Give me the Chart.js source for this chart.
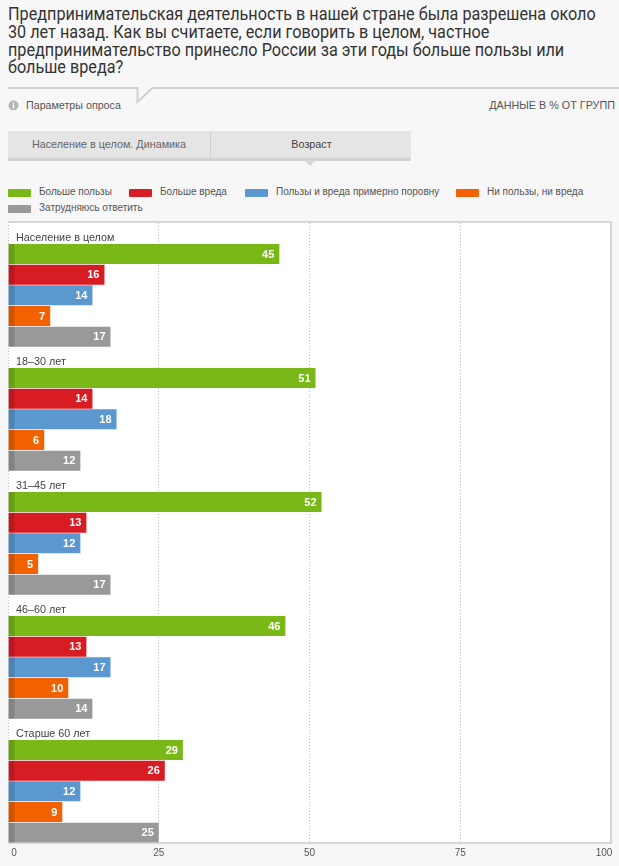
<!DOCTYPE html>
<html lang="ru">
<head>
<meta charset="utf-8">
<title>Предпринимательская деятельность</title>
<script src="https://cdn.jsdelivr.net/npm/chart.js@4"></script>
<style>
  html, body { margin: 0; padding: 0; background: #f7f7f7; }
  body { width: 619px; height: 866px; position: relative; overflow: hidden; font-family: "Liberation Sans", Arial, sans-serif; color: #444; }
  .abs { position: absolute; white-space: nowrap; }
  #title { left: 8px; top: 6px; font-family: Roboto, sans-serif; font-size: 18.5px; line-height: 17.8px; color: #333; transform: scaleX(0.876); transform-origin: left top; }
  #tabs { left: 8px; top: 131px; width: 403px; height: 27px; background: #e5e5e5; border-bottom: 3px solid #d2d2d2; font-size: 10.8px; }
  #tabs div { position: absolute; top: 0; height: 27px; line-height: 27px; text-align: center; }
  .sw { position: absolute; width: 23px; height: 8px; border-radius: 1px; }
  .lg { position: absolute; font-size: 10px; line-height: 12px; color: #555; white-space: nowrap; }
  #chart { position: absolute; left: 0; top: 221px; }
</style>
</head>
<body>
<div id="title" class="abs">Предпринимательская деятельность в нашей стране была разрешена около<br>30 лет назад. Как вы считаете, если говорить в целом, частное<br>предпринимательство принесло России за эти годы больше пользы или<br>больше вреда?</div>

<svg class="abs" style="left:0;top:80px" width="619" height="30">
  <polyline points="8,8 137.5,8 137.5,22 152.5,8 619,8" fill="none" stroke="#cfcfcf" stroke-width="2"/>
  <circle cx="13.5" cy="25.5" r="5" fill="#b5b5b5"/>
  <rect x="12.8" y="24.5" width="1.4" height="4" fill="#fff"/>
  <rect x="12.8" y="22.3" width="1.4" height="1.4" fill="#fff"/>
</svg>
<div class="abs" style="left:26px;top:99px;font-size:10.7px;line-height:12px;color:#555">Параметры опроса</div>
<div class="abs" style="right:4px;top:99px;font-size:10.8px;line-height:12px;color:#555">ДАННЫЕ В % ОТ ГРУПП</div>

<div id="tabs" class="abs">
  <div style="left:0;width:202px;color:#666">Население в целом. Динамика</div>
  <div style="left:202px;width:201px;border-left:1px solid #d0d0d0;color:#444">Возраст</div>
</div>
<svg class="abs" style="left:300px;top:160px" width="20" height="8"><polygon points="4,0 16,0 10,6" fill="#d8d8d8"/></svg>

<div id="legend"></div>
<canvas id="chart" width="619" height="645"></canvas>

<script>
const categories = ['Население в целом', '18–30 лет', '31–45 лет', '46–60 лет', 'Старше 60 лет'];
const seriesNames = ['Больше пользы', 'Больше вреда', 'Пользы и вреда примерно поровну', 'Ни пользы, ни вреда', 'Затрудняюсь ответить'];
const morePositive = [45, 51, 52, 46, 29];
const moreHarm = [16, 14, 13, 13, 26];
const aboutEqual = [14, 18, 12, 17, 12];
const neither = [7, 6, 5, 10, 9];
const hardToSay = [17, 12, 17, 14, 25];
const xTicks = [0, 25, 50, 75, 100];
const colors = ['#7ab818', '#d81c23', '#5b98d0', '#f26200', '#999999'];

// html legend, positions picked by eye
const legendSpots = [[8, 191], [129, 191], [245, 191], [456, 191], [8, 207]];
const legendBox = document.getElementById('legend');
seriesNames.forEach((name, i) => {
  const sw = document.createElement('div');
  sw.className = 'sw';
  sw.style.cssText = `left:${legendSpots[i][0]}px;top:${legendSpots[i][1] - 2}px;background:${colors[i]}`;
  const tx = document.createElement('div');
  tx.className = 'lg';
  tx.style.cssText = `left:${legendSpots[i][0] + 31}px;top:${legendSpots[i][1] - 5}px`;
  tx.textContent = name;
  legendBox.append(sw, tx);
});

// white plot box, group captions, bar strips, value labels, axis numbers
const decor = {
  id: 'decor',
  beforeDraw(chart) {
    const { ctx, chartArea: a } = chart;
    ctx.save();
    ctx.fillStyle = '#fff';
    ctx.fillRect(a.left, a.top - 1, a.width, a.height + 1);
    ctx.restore();
  },
  afterDatasetsDraw(chart) {
    const { ctx, chartArea: a, scales } = chart;
    ctx.save();
    ctx.strokeStyle = '#cccccc';
    ctx.lineWidth = 1.5;
    ctx.beginPath();
    ctx.moveTo(a.left, a.top - 1);
    ctx.lineTo(a.right, a.top - 1);
    ctx.lineTo(a.right, a.bottom);
    ctx.lineTo(a.left, a.bottom);
    ctx.stroke();

    const band = a.height / categories.length;
    ctx.font = '10.8px "Liberation Sans", Arial, sans-serif';
    ctx.fillStyle = '#444';
    ctx.textAlign = 'left';
    ctx.textBaseline = 'alphabetic';
    categories.forEach((c, i) => {
      ctx.fillText(c, a.left + 8, scales.y.getPixelForValue(i) - band / 2 + 18);
    });

    chart.data.datasets.forEach((ds, d) => {
      if (!ds.data.length) return;
      chart.getDatasetMeta(d).data.forEach((bar, i) => {
        ctx.fillStyle = 'rgba(0,0,0,0.14)';
        ctx.fillRect(bar.base, bar.y - bar.height / 2, 6, bar.height);
        ctx.fillStyle = '#fff';
        ctx.font = 'bold 11px "Liberation Sans", Arial, sans-serif';
        ctx.textAlign = 'right';
        ctx.textBaseline = 'middle';
        ctx.fillText(ds.data[i], bar.x - 5, bar.y + 0.5);
      });
    });

    // left edge is dotted, unlike the other three
    ctx.strokeStyle = '#bbbbbb';
    ctx.lineWidth = 1;
    ctx.setLineDash([1, 2]);
    ctx.beginPath();
    ctx.moveTo(a.left + 0.5, a.top - 1);
    ctx.lineTo(a.left + 0.5, a.bottom);
    ctx.stroke();
    ctx.setLineDash([]);

    ctx.font = '10px "Liberation Sans", Arial, sans-serif';
    ctx.fillStyle = '#555';
    ctx.textAlign = 'center';
    ctx.textBaseline = 'alphabetic';
    xTicks.forEach((t, i) => {
      let shift = 0;
      if (i === 0) shift = 6;
      if (i === xTicks.length - 1) shift = -7;
      ctx.fillText(t, scales.x.getPixelForValue(t) + shift, a.bottom + 13);
    });
    ctx.restore();
  }
};

new Chart(document.getElementById('chart'), {
  type: 'bar',
  plugins: [decor],
  data: {
    labels: categories,
    datasets: [
      // empty slot on top of each group, the caption sits there
      { label: '', data: [] },
      { label: seriesNames[0], data: morePositive, backgroundColor: colors[0] },
      { label: seriesNames[1], data: moreHarm, backgroundColor: colors[1] },
      { label: seriesNames[2], data: aboutEqual, backgroundColor: colors[2] },
      { label: seriesNames[3], data: neither, backgroundColor: colors[3] },
      { label: seriesNames[4], data: hardToSay, backgroundColor: colors[4] },
    ],
  },
  options: {
    indexAxis: 'y',
    responsive: false,
    animation: false,
    layout: { padding: { left: 8, right: 8, top: 2, bottom: 23 } },
    categoryPercentage: 1,
    barPercentage: 0.97,
    plugins: { legend: { display: false }, tooltip: { enabled: false } },
    scales: {
      x: {
        min: 0,
        max: 100,
        afterBuildTicks(axis) { axis.ticks = xTicks.map((v) => ({ value: v })); },
        ticks: { display: false },
        border: { display: false, dash: [1, 2] },
        grid: {
          color: (c) => (c.tick.value === 0 || c.tick.value === 100 ? 'transparent' : '#bbbbbb'),
          drawTicks: false,
        },
      },
      y: { display: false },
    },
  },
});
</script>
</body>
</html>
